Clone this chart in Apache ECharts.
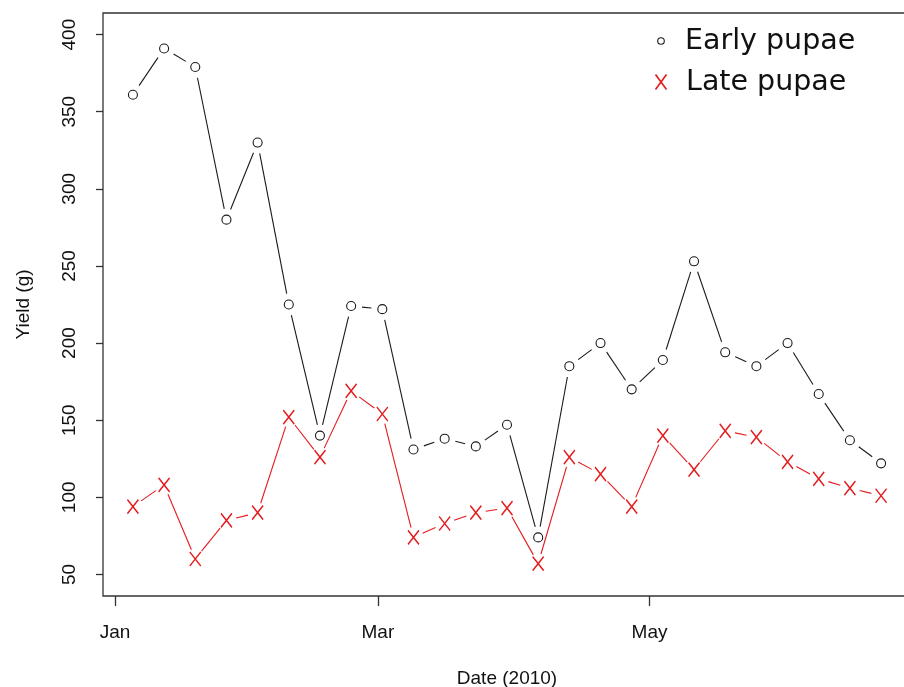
<!DOCTYPE html>
<html>
<head>
<meta charset="utf-8">
<script src="https://cdn.jsdelivr.net/npm/echarts@6/dist/echarts.min.js"></script>
<style>html,body{margin:0;padding:0;background:#fff}#c{width:904px;height:687px}</style>
</head>
<body>
<div id="c"></div>
<script>
// ---- data ----
const dates = ['2010-01-05','2010-01-12','2010-01-19','2010-01-26','2010-02-02','2010-02-09','2010-02-16','2010-02-23',
  '2010-03-02','2010-03-09','2010-03-16','2010-03-23','2010-03-30','2010-04-06','2010-04-13','2010-04-20','2010-04-27',
  '2010-05-04','2010-05-11','2010-05-18','2010-05-25','2010-06-01','2010-06-08','2010-06-15','2010-06-22'];
const earlyPupae = [361, 391, 379, 280, 330, 225, 140, 224, 222, 131, 138, 133, 147, 74, 185, 200, 170, 189, 253, 194, 185, 200, 167, 137, 122];
const latePupae  = [94, 108, 60, 85, 90, 152, 126, 169, 154, 74, 83, 90, 93, 57, 126, 115, 94, 140, 118, 143, 139, 123, 112, 106, 101];
const xTickDates = ['2010-01-01','2010-03-01','2010-05-01'];
const xTickLabels = ['Jan','Mar','May'];
const yTicks = [50, 100, 150, 200, 250, 300, 350, 400];
const yLimits = [50, 400];
const seriesNames = ['Early pupae', 'Late pupae'];

// ---- helpers ----
const DAY = 86400000;
const parse = s => Math.round(Date.UTC(...s.split('-').map((v, k) => k === 1 ? v - 1 : +v)) / DAY); // day number
const times = dates.map(parse);
const tickTimes = xTickDates.map(parse);
const ext = (a, b) => [a - (b - a) * 0.04, b + (b - a) * 0.04];
const xr = ext(times[0], times[times.length-1]);
const yr = ext(yLimits[0], yLimits[1]);
const RED = '#e41a1c', BLACK = '#1a1a1a';
const FONT = '"Liberation Sans", Arial, Helvetica, sans-serif';

function segs(vals) {
  const out = [];
  for (let i = 0; i < vals.length - 1; i++) out.push([times[i], vals[i], times[i+1], vals[i+1]]);
  return out;
}
function gapLine(color, gap) {
  return function (params, api) {
    const p0 = api.coord([api.value(0), api.value(1)]);
    const p1 = api.coord([api.value(2), api.value(3)]);
    const dx = p1[0]-p0[0], dy = p1[1]-p0[1];
    const L = Math.sqrt(dx*dx+dy*dy);
    if (L <= 2*gap) return null;
    const ux = dx/L, uy = dy/L;
    return { type: 'line', shape: { x1: p0[0]+ux*gap, y1: p0[1]+uy*gap, x2: p1[0]-ux*gap, y2: p1[1]-uy*gap },
      style: { stroke: color, lineWidth: 1.1 } };
  };
}

const chart = echarts.init(document.getElementById('c'), null, { renderer: 'canvas' });
chart.setOption({
  animation: false,
  backgroundColor: '#fff',
  grid: { left: 103, top: 13, width: 808, height: 583, outerBoundsMode: 'none', containLabel: false,
    show: true, borderColor: '#333', borderWidth: 1.3, backgroundColor: 'transparent' },
  xAxis: {
    type: 'value', min: xr[0], max: xr[1],
    name: 'Date (2010)', nameLocation: 'middle', nameGap: 73,
    nameTextStyle: { fontSize: 19, fontFamily: FONT, color: '#111' },
    axisLine: { show: false },
    splitLine: { show: false },
    axisTick: { show: true, customValues: tickTimes, length: 10, lineStyle: { color: '#333', width: 1.3 } },
    axisLabel: { customValues: tickTimes, margin: 27, fontSize: 19, fontFamily: FONT, color: '#111',
      formatter: v => { const i = tickTimes.indexOf(Math.round(v)); return i >= 0 ? xTickLabels[i] : ''; } }
  },
  yAxis: {
    type: 'value', min: yr[0], max: yr[1],
    name: 'Yield (g)', nameLocation: 'middle', nameGap: 70,
    nameTextStyle: { fontSize: 19, fontFamily: FONT, color: '#111' },
    axisLine: { show: false },
    splitLine: { show: false },
    axisTick: { show: true, customValues: yTicks, length: 7, lineStyle: { color: '#333', width: 1.3 } },
    axisLabel: { customValues: yTicks, rotate: 90, margin: 24, fontSize: 19, fontFamily: FONT, color: '#111' }
  },
  series: [
    { type: 'custom', name: seriesNames[0] + ' line', data: segs(earlyPupae), encode: { x: [0,2], y: [1,3] },
      renderItem: gapLine(BLACK, 11), silent: true },
    { type: 'custom', name: seriesNames[1] + ' line', data: segs(latePupae), encode: { x: [0,2], y: [1,3] },
      renderItem: gapLine(RED, 10), silent: true },
    { type: 'scatter', name: seriesNames[0], data: times.map((t,i) => [t, earlyPupae[i]]),
      symbol: 'circle', symbolSize: 9, itemStyle: { color: 'rgba(255,255,255,0)', borderColor: BLACK, borderWidth: 1.1, opacity: 1 } },
    { type: 'scatter', name: seriesNames[1], data: times.map((t,i) => [t, latePupae[i]]),
      symbol: 'path://M0,0L10,12M10,0L0,12', symbolSize: [11, 14],
      itemStyle: { color: 'rgba(255,255,255,0)', borderColor: RED, borderWidth: 1.5, opacity: 1 } }
  ],
  graphic: [
    { type: 'circle', shape: { cx: 661, cy: 41, r: 3.3 }, style: { fill: 'none', stroke: BLACK, lineWidth: 1.1 } },
    { type: 'text', x: 685, y: 42, style: { text: seriesNames[0], font: '28.5px "DejaVu Sans", sans-serif', fill: '#111', verticalAlign: 'middle', textAlign: 'left' } },
    { type: 'polyline', shape: { points: [[655.5, 74.5], [666.5, 89.5]] }, style: { stroke: RED, lineWidth: 1.6 } },
    { type: 'polyline', shape: { points: [[666.5, 74.5], [655.5, 89.5]] }, style: { stroke: RED, lineWidth: 1.6 } },
    { type: 'text', x: 686, y: 83, style: { text: seriesNames[1], font: '28.5px "DejaVu Sans", sans-serif', fill: '#111', verticalAlign: 'middle', textAlign: 'left' } }
  ]
});
</script>
</body>
</html>
